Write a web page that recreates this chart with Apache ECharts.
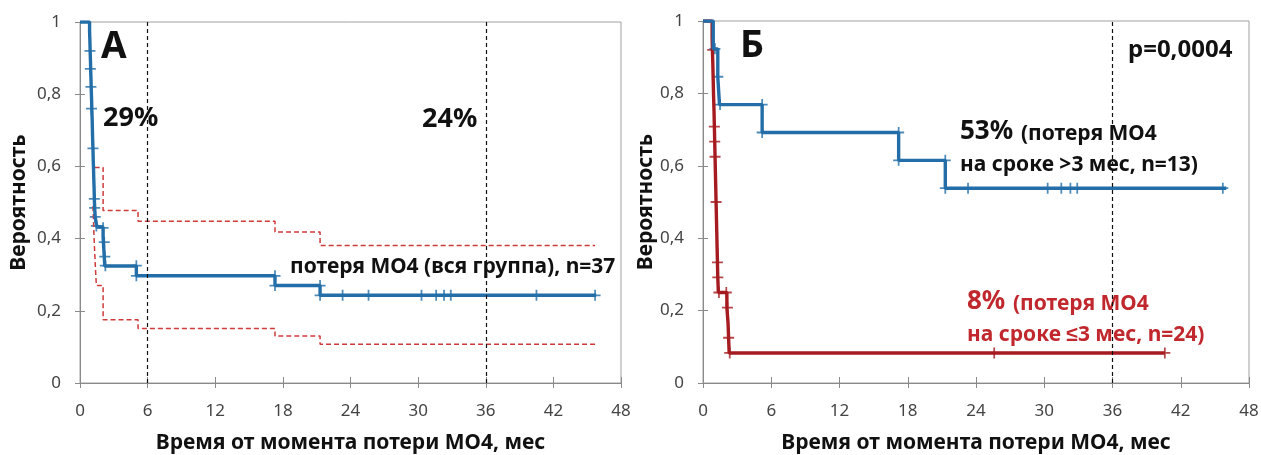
<!DOCTYPE html>
<html>
<head>
<meta charset="utf-8">
<script src="https://cdn.jsdelivr.net/npm/echarts@6/dist/echarts.min.js"></script>
<style>
  html, body { margin: 0; padding: 0; background: #fff; }
  #chart { width: 1261px; height: 455px; }
</style>
</head>
<body>
<div id="chart"></div>
<script>
// Panel A: loss of MO4, whole group (n=37) - KM estimate [month, probability]
var survAll = [[0, 1], [0.85, 0.973], [0.88, 0.946], [0.9, 0.919], [0.93, 0.892], [0.95, 0.865],
  [0.98, 0.838], [1.0, 0.811], [1.03, 0.784], [1.05, 0.757], [1.08, 0.73], [1.1, 0.703],
  [1.12, 0.676], [1.15, 0.649], [1.17, 0.622], [1.2, 0.595], [1.22, 0.568], [1.25, 0.541],
  [1.27, 0.514], [1.3, 0.486], [1.35, 0.459], [1.5, 0.432], [2.05, 0.405], [2.1, 0.378],
  [2.15, 0.351], [2.2, 0.324], [5.0, 0.297], [17.3, 0.27], [21.3, 0.243], [45.8, 0.243]];
var ciUpperAll = [[1.3, 0.597], [2.05, 0.478], [5.15, 0.448], [17.3, 0.418], [21.3, 0.381], [45.7, 0.381]];
var ciLowerAll = [[1.15, 0.49], [1.25, 0.4], [1.35, 0.33], [1.45, 0.27], [2.05, 0.175],
  [5.15, 0.151], [17.3, 0.13], [21.3, 0.107], [45.7, 0.107]];
var censorAll = [[0.88, 0.92], [0.92, 0.87], [0.97, 0.82], [1.02, 0.76], [1.15, 0.65], [1.27, 0.51],
  [1.3, 0.485], [1.35, 0.46], [1.45, 0.435], [2.05, 0.43], [2.15, 0.39], [2.2, 0.35], [2.25, 0.325],
  [5.0, 0.325], [5.0, 0.297], [17.3, 0.297], [17.3, 0.27], [21.3, 0.27], [21.3, 0.243], [23.3, 0.243],
  [25.6, 0.243], [30.3, 0.243], [31.6, 0.243], [32.3, 0.243], [32.9, 0.243], [40.5, 0.243], [45.7, 0.243]];

// Panel B: loss after >3 months (n=13) vs <=3 months (n=24)
var survLate = [[0, 1], [0.9, 0.923], [1.3, 0.846], [1.45, 0.769], [5.2, 0.692], [17.2, 0.615],
  [21.3, 0.538], [46.0, 0.538]];
var censorLate = [[1.05, 0.923], [1.3, 0.846], [1.5, 0.769], [5.2, 0.769], [5.2, 0.692], [17.2, 0.692],
  [17.2, 0.615], [21.3, 0.615], [21.3, 0.538], [23.3, 0.538], [30.3, 0.538], [31.5, 0.538],
  [32.3, 0.538], [32.9, 0.538], [45.7, 0.538]];
var survEarly = [[0, 1], [0.8, 0.958], [0.83, 0.917], [0.87, 0.875], [0.9, 0.833], [0.93, 0.792],
  [0.97, 0.75], [1.0, 0.708], [1.03, 0.667], [1.06, 0.625], [1.09, 0.583], [1.12, 0.542],
  [1.15, 0.5], [1.18, 0.458], [1.21, 0.417], [1.24, 0.375], [1.27, 0.333], [1.3, 0.292],
  [1.35, 0.25], [2.1, 0.208], [2.2, 0.167], [2.25, 0.125], [2.3, 0.083], [40.6, 0.083]];
var censorEarly = [[0.85, 0.92], [1.0, 0.708], [1.03, 0.667], [1.06, 0.625], [1.15, 0.5], [1.27, 0.333],
  [1.3, 0.292], [1.4, 0.25], [2.05, 0.25], [2.15, 0.208], [2.25, 0.125], [2.35, 0.083],
  [25.6, 0.083], [40.6, 0.083]];

var refMonthsA = [6, 36];
var refMonthsB = [36];

var xTitle = 'Время от момента потери МО4, мес';
var yTitle = 'Вероятность';

var FONT = '"Noto Sans", sans-serif';
var blue = '#236ea8';
var darkRed = '#a51b1f';
var ciRed = '#cf3a3a';
var textRed = '#c0282d';
var axisGrey = '#8a8a8a';
// "+" mark for censored observations
var crossPath = 'path://M0,4.2H10V5.8H0Z M4.2,0H5.8V10H4.2Z';

function xAxisCfg(gridIndex) {
  return {
    type: 'value', gridIndex: gridIndex, min: 0, max: 48, interval: 6,
    name: xTitle, nameLocation: 'middle', nameGap: 50,
    nameTextStyle: { fontFamily: FONT, fontWeight: 'bold', fontSize: 21, color: '#111' },
    axisLine: { lineStyle: { color: axisGrey } },
    axisTick: { inside: true, length: 6, lineStyle: { color: axisGrey } },
    axisLabel: { fontFamily: FONT, fontSize: 17, color: '#444', margin: 20 },
    splitLine: { show: false }
  };
}
function yAxisCfg(gridIndex, gap) {
  return {
    type: 'value', gridIndex: gridIndex, min: 0, max: 1, interval: 0.2,
    name: yTitle, nameLocation: 'middle', nameGap: gap, nameRotate: 90,
    nameTextStyle: { fontFamily: FONT, fontWeight: 'bold', fontSize: 21, color: '#111' },
    axisLine: { show: true, lineStyle: { color: axisGrey } },
    axisTick: { show: true, length: 5, lineStyle: { color: axisGrey } },
    axisLabel: {
      fontFamily: FONT, fontSize: 17, color: '#444', margin: 19,
      formatter: function (v) { return String(+v.toFixed(1)).replace('.', ','); }
    },
    splitLine: { show: false }
  };
}
// twin axes only to get Excel-style ticks that cross the axis line
function xTwin(gridIndex) {
  return {
    type: 'value', gridIndex: gridIndex, min: 0, max: 48, interval: 6, position: 'bottom',
    axisLine: { show: false }, axisLabel: { show: false }, splitLine: { show: false },
    axisTick: { inside: false, length: 5, lineStyle: { color: axisGrey } }
  };
}
function yTwin(gridIndex) {
  return {
    type: 'value', gridIndex: gridIndex, min: 0, max: 1, interval: 0.2, position: 'left',
    axisLine: { show: false }, axisLabel: { show: false }, splitLine: { show: false },
    axisTick: { show: true, inside: true, length: 5, lineStyle: { color: axisGrey } }
  };
}
function refLines(months) {
  return {
    symbol: 'none', silent: true, label: { show: false },
    lineStyle: { type: [4, 3], color: '#111', width: 1.2 },
    data: months.map(function (m) { return { xAxis: m }; })
  };
}
function stepLine(data, axis, color, width, dashed) {
  return {
    type: 'line', step: 'end', xAxisIndex: axis, yAxisIndex: axis, data: data,
    showSymbol: false, silent: true, animation: false,
    lineStyle: { color: color, width: width, type: dashed ? [5, 3] : 'solid' }
  };
}
function censorMarks(data, axis, color) {
  return {
    type: 'scatter', xAxisIndex: axis, yAxisIndex: axis, data: data,
    symbol: crossPath, symbolSize: 11, silent: true, animation: false,
    itemStyle: { color: color }
  };
}
function label(text, x, y, size, color) {
  return {
    type: 'text', x: x, y: y, silent: true,
    style: {
      text: text, fill: color || '#111', font: 'bold ' + size + 'px ' + FONT,
      textAlign: 'left', textVerticalAlign: 'middle'
    }
  };
}

var chart = echarts.init(document.getElementById('chart'));

var ciUpperSeries = stepLine(ciUpperAll, 0, ciRed, 1.5, true);
ciUpperSeries.markLine = refLines(refMonthsA);
var lateSeries = stepLine(survLate, 1, blue, 3.4, false);
lateSeries.markLine = refLines(refMonthsB);

chart.setOption({
  backgroundColor: '#fff',
  animation: false,
  grid: [
    { left: 80, right: 640, top: 22, bottom: 72, outerBoundsMode: 'none',
      show: true, borderColor: '#a0a0a0', borderWidth: 1 },
    { left: 703, right: 12, top: 21, bottom: 72, outerBoundsMode: 'none',
      show: true, borderColor: '#a0a0a0', borderWidth: 1 }
  ],
  xAxis: [xAxisCfg(0), xAxisCfg(1), xTwin(0), xTwin(1)],
  yAxis: [yAxisCfg(0, 50), yAxisCfg(1, 43), yTwin(0), yTwin(1)],
  series: [
    ciUpperSeries,
    stepLine(ciLowerAll, 0, ciRed, 1.5, true),
    stepLine(survAll, 0, blue, 3.4, false),
    censorMarks(censorAll, 0, blue),
    stepLine(survEarly, 1, darkRed, 3.4, false),
    censorMarks(censorEarly, 1, darkRed),
    lateSeries,
    censorMarks(censorLate, 1, blue)
  ],
  graphic: [
    label('А', 101, 47, 37),
    label('29%', 103, 118, 27),
    label('24%', 422, 119, 27),
    label('потеря МО4 (вся группа), n=37', 290, 267, 21),
    label('Б', 740, 46, 37),
    label('p=0,0004', 1128, 50, 24),
    label('53%', 960, 132, 26),
    label('(потеря МО4', 1021, 134, 21),
    label('на сроке >3 мес, n=13)', 960, 165, 21),
    label('8%', 967, 302, 26, textRed),
    label('(потеря МО4', 1013, 304, 21, textRed),
    label('на сроке ≤3 мес, n=24)', 967, 335, 21, textRed)
  ]
});
</script>
</body>
</html>
